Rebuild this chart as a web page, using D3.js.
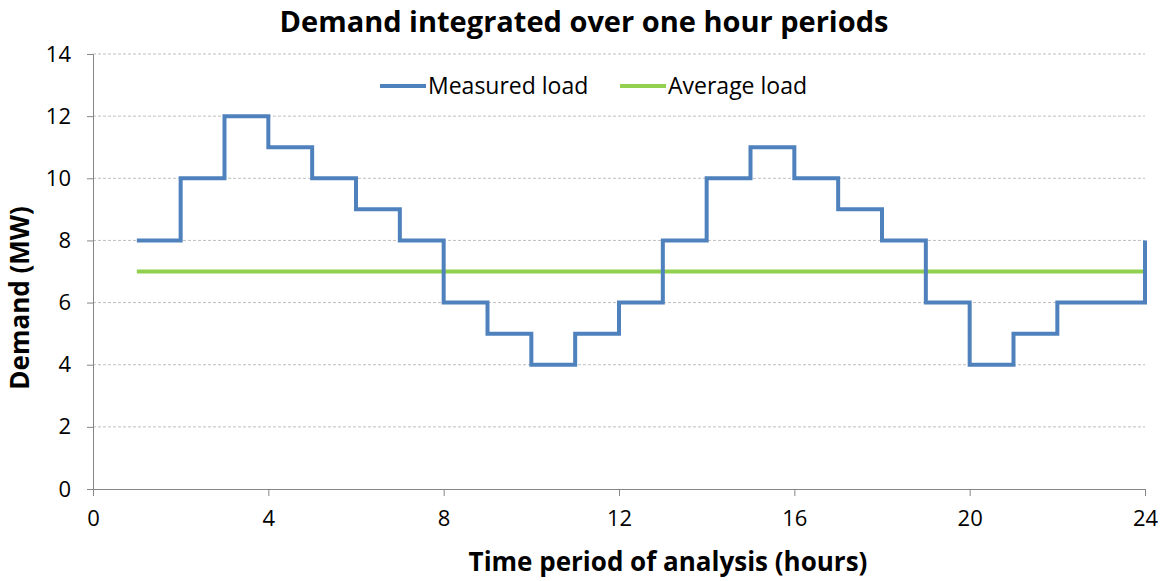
<!DOCTYPE html>
<html>
<head>
<meta charset="utf-8">
<script src="https://cdn.jsdelivr.net/npm/d3@7"></script>
<style>
  body { margin: 0; background: #fff; }
  svg text { font-family: "Open Sans", "Noto Sans", sans-serif; fill: #000; }
</style>
</head>
<body>
<div id="chart"></div>
<script>
// hours (step starts) and the measured load in MW
const hours = [1, 2, 3, 4, 5, 6, 7, 8, 9, 10, 11, 12, 13, 14, 15, 16, 17, 18, 19, 20, 21, 22, 23, 24];
const measured = [8, 10, 12, 11, 10, 9, 8, 6, 5, 4, 5, 6, 8, 10, 11, 10, 9, 8, 6, 4, 5, 6, 6, 8];
const averageLoad = 7;
const xTicks = [0, 4, 8, 12, 16, 20, 24];
const yTicks = [0, 2, 4, 6, 8, 10, 12, 14];

const W = 1163, H = 581;
const margin = { top: 54, right: 18, bottom: 92, left: 93 };
const width = W - margin.left - margin.right,
      height = H - margin.top - margin.bottom;

const svg = d3.select("#chart").append("svg")
    .attr("width", W)
    .attr("height", H);

const g = svg.append("g")
    .attr("transform", `translate(${margin.left},${margin.top})`);

const x = d3.scaleLinear().domain([0, 24]).range([0, width]);
const y = d3.scaleLinear().domain([0, 14]).range([height, 0]);

// title
svg.append("text")
   .attr("x", 584)
   .attr("y", 32)
   .attr("text-anchor", "middle")
   .style("font-size", "29px")
   .style("font-weight", "bold")
   .text("Demand integrated over one hour periods");

// gridlines
g.selectAll(".grid")
 .data(yTicks.filter(d => d > 0))
 .enter().append("line")
 .attr("x1", 0).attr("x2", width)
 .attr("y1", d => y(d)).attr("y2", d => y(d))
 .attr("stroke", "#bfbfbf")
 .attr("stroke-dasharray", "3,2")
 .attr("stroke-width", 1);

// Y axis
const yAxis = g.append("g")
  .call(d3.axisLeft(y).tickValues(yTicks).tickSize(6).tickPadding(16));
yAxis.select(".domain").attr("stroke", "#868686");
yAxis.selectAll(".tick line").attr("stroke", "#868686");
yAxis.selectAll("text").style("font-size", "22px");

// X axis
const xAxis = g.append("g")
  .attr("transform", `translate(0,${height})`)
  .call(d3.axisBottom(x).tickValues(xTicks).tickSize(7).tickSizeOuter(0).tickPadding(14));
xAxis.select(".domain").attr("stroke", "#868686");
xAxis.selectAll(".tick line").attr("stroke", "#868686");
xAxis.selectAll("text").style("font-size", "22px");

// axis titles
svg.append("text")
   .attr("x", 668)
   .attr("y", 571)
   .attr("text-anchor", "middle")
   .style("font-size", "26px")
   .style("font-weight", "bold")
   .text("Time period of analysis (hours)");

svg.append("text")
   .attr("transform", `translate(29,298) rotate(-90)`)
   .attr("text-anchor", "middle")
   .style("font-size", "26px")
   .style("font-weight", "bold")
   .text("Demand (MW)");

// average line
g.append("line")
 .attr("x1", x(hours[0])).attr("x2", x(hours[hours.length - 1]))
 .attr("y1", y(averageLoad)).attr("y2", y(averageLoad))
 .attr("stroke", "#92D050")
 .attr("stroke-width", 4);

// measured step line
const line = d3.line()
  .x((d, i) => x(hours[i]))
  .y(d => y(d))
  .curve(d3.curveStepAfter);

g.append("path")
 .datum(measured)
 .attr("fill", "none")
 .attr("stroke", "#4F81BD")
 .attr("stroke-width", 4)
 .attr("stroke-linejoin", "miter")
 .attr("d", line);

// legend
const legend = [
  { name: "Measured load", color: "#4F81BD", x: 380 },
  { name: "Average load", color: "#92D050", x: 620 }
];
const lg = svg.selectAll(".legend")
  .data(legend)
  .enter().append("g")
  .attr("transform", d => `translate(${d.x},86)`);
lg.append("line")
  .attr("x1", 0).attr("x2", 46)
  .attr("y1", 0).attr("y2", 0)
  .attr("stroke", d => d.color)
  .attr("stroke-width", 4);
lg.append("text")
  .attr("x", 48)
  .attr("y", 8)
  .style("font-size", "23px")
  .text(d => d.name);
</script>
</body>
</html>
